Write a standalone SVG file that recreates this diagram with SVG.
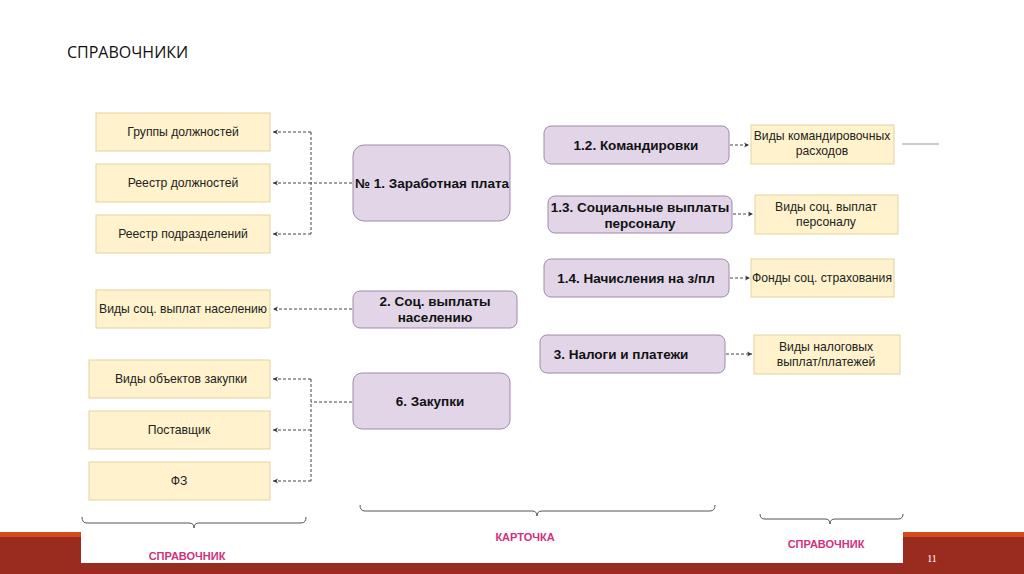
<svg xmlns="http://www.w3.org/2000/svg" width="1024" height="574" viewBox="0 0 1024 574">
<style>
.y{fill:#FFF2CC;stroke:#E3D3A0;stroke-width:1}
.p{fill:#E1D5E7;stroke:#9E8AA8;stroke-width:1}
.ty{font-family:"Liberation Sans",Arial,sans-serif;font-size:12.2px;fill:#222;text-anchor:middle}
.tp{font-family:"Liberation Sans",Arial,sans-serif;font-size:13.5px;font-weight:bold;fill:#111;text-anchor:middle}
.c{fill:none;stroke:#444;stroke-width:1;stroke-dasharray:3 2}
.br{fill:none;stroke:#555;stroke-width:1}
.lb{font-family:"Liberation Sans",Arial,sans-serif;font-size:11px;font-weight:bold;fill:#D0307E;text-anchor:middle}
</style>
<defs>
<marker id="a" markerWidth="6" markerHeight="6" refX="5" refY="3" orient="auto" markerUnits="userSpaceOnUse">
<path d="M0,0.5 L5,3 L0,5.5 L1.5,3 Z" fill="#333"/>
</marker>
</defs>
<rect width="1024" height="574" fill="#fff"/>
<rect x="0" y="532" width="1024" height="5" fill="#D24B1D"/>
<rect x="0" y="537" width="1024" height="37" fill="#9A2C1F"/>
<rect x="81" y="500" width="822" height="63" fill="#fff"/>
<text x="932" y="562" font-family="'Liberation Serif',serif" font-size="10" fill="#fff" text-anchor="middle">11</text>
<text x="67" y="58" font-family="'Open Sans',sans-serif" font-size="16" fill="#111">СПРАВОЧНИКИ</text>

<g id="connectors">
<path class="c" d="M352,183 H311"/>
<path class="c" d="M311,132 V234"/>
<path class="c" d="M311,132 H273" marker-end="url(#a)"/>
<path class="c" d="M311,183 H273" marker-end="url(#a)"/>
<path class="c" d="M311,234 H273" marker-end="url(#a)"/>
<path class="c" d="M352,309 H273" marker-end="url(#a)"/>
<path class="c" d="M352,402 H311"/>
<path class="c" d="M311,379 V481"/>
<path class="c" d="M311,379 H273" marker-end="url(#a)"/>
<path class="c" d="M311,430 H273" marker-end="url(#a)"/>
<path class="c" d="M311,481 H273" marker-end="url(#a)"/>
<path class="c" d="M730,145 H749" marker-end="url(#a)"/>
<path class="c" d="M733,214 H753" marker-end="url(#a)"/>
<path class="c" d="M730,278 H750" marker-end="url(#a)"/>
<path class="c" d="M726,354 H752" marker-end="url(#a)"/>
<path d="M902,144 H939" stroke="#999" stroke-width="1"/>
</g>

<g id="n-gruppy"><rect class="y" x="96" y="113" width="174" height="38"/><text class="ty" x="183" y="136">Группы должностей</text></g>
<g id="n-reestr-dolzh"><rect class="y" x="96" y="164" width="174" height="38"/><text class="ty" x="183" y="187">Реестр должностей</text></g>
<g id="n-reestr-podr"><rect class="y" x="96" y="215" width="174" height="38"/><text class="ty" x="183" y="238">Реестр подразделений</text></g>
<g id="n-vidy-nasel"><rect class="y" x="96" y="290" width="174" height="38"/><text class="ty" x="183" y="313">Виды соц. выплат населению</text></g>
<g id="n-vidy-obj"><rect class="y" x="89" y="360" width="181" height="38"/><text class="ty" x="181" y="383">Виды объектов закупки</text></g>
<g id="n-postav"><rect class="y" x="89" y="411" width="181" height="38"/><text class="ty" x="179" y="434">Поставщик</text></g>
<g id="n-fz"><rect class="y" x="89" y="462" width="181" height="38"/><text class="ty" x="179" y="485">ФЗ</text></g>

<g id="n-zarplata"><rect class="p" x="353" y="145" width="157" height="76" rx="11"/><text class="tp" x="432" y="188">№ 1. Заработная плата</text></g>
<g id="n-soc-nasel"><rect class="p" x="353" y="291" width="164" height="37" rx="7"/><text class="tp" x="435" y="306">2. Соц. выплаты</text><text class="tp" x="435" y="322">населению</text></g>
<g id="n-zakupki"><rect class="p" x="353" y="373" width="157" height="56" rx="9"/><text class="tp" x="430" y="406">6. Закупки</text></g>

<g id="n-komand"><rect class="p" x="544" y="126" width="185" height="38" rx="7"/><text class="tp" x="636" y="150">1.2. Командировки</text></g>
<g id="n-soc-pers"><rect class="p" x="548" y="196" width="184" height="37" rx="7"/><text class="tp" x="640" y="212">1.3. Социальные выплаты</text><text class="tp" x="640" y="228">персоналу</text></g>
<g id="n-nachisl"><rect class="p" x="544" y="259" width="185" height="38" rx="7"/><text class="tp" x="636" y="283">1.4. Начисления на з/пл</text></g>
<g id="n-nalogi"><rect class="p" x="540" y="335" width="185" height="38" rx="7"/><text class="tp" x="621" y="359">3. Налоги и платежи</text></g>

<g id="n-vidy-kom"><rect class="y" x="751" y="125" width="143" height="39"/><text class="ty" x="822" y="140">Виды командировочных</text><text class="ty" x="822" y="155">расходов</text></g>
<g id="n-vidy-pers"><rect class="y" x="755" y="195" width="143" height="39"/><text class="ty" x="826" y="211">Виды соц. выплат</text><text class="ty" x="826" y="226">персоналу</text></g>
<g id="n-fondy"><rect class="y" x="751" y="259" width="143" height="38"/><text class="ty" x="822" y="282">Фонды соц. страхования</text></g>
<g id="n-vidy-nalog"><rect class="y" x="754" y="335" width="146" height="39"/><text class="ty" x="826" y="351">Виды налоговых</text><text class="ty" x="826" y="366">выплат/платежей</text></g>

<g id="braces">
<path class="br" d="M82,517 Q82,523 87,523 H189 Q194,523 194,528 Q194,523 199,523 H301 Q306,523 306,517"/>
<path class="br" d="M360,505 Q360,511 365,511 H532 Q537,511 537,516 Q537,511 542,511 H710 Q715,511 715,505"/>
<path class="br" d="M760,514 Q760,519 765,519 H825 Q830,519 830,524 Q830,519 835,519 H898 Q903,519 903,514"/>
</g>
<text class="lb" x="187" y="560">СПРАВОЧНИК</text>
<text class="lb" x="525" y="541">КАРТОЧКА</text>
<text class="lb" x="826" y="548">СПРАВОЧНИК</text>
</svg>
